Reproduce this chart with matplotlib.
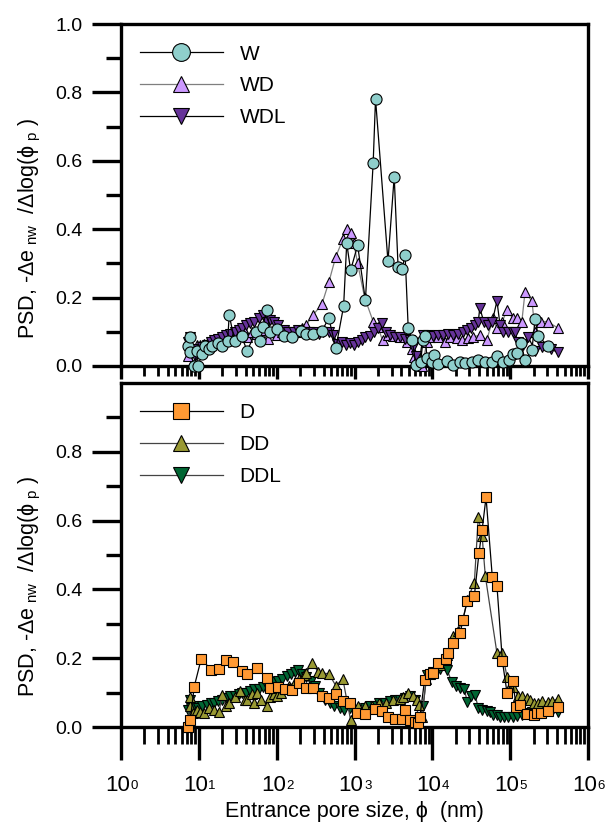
import matplotlib
matplotlib.use("Agg")
import matplotlib.pyplot as plt
import numpy as np
from matplotlib.ticker import FixedLocator, LogLocator, NullFormatter, FormatStrFormatter

plt.rcParams['font.family'] = ['Liberation Sans', 'DejaVu Sans']
plt.rcParams['mathtext.fontset'] = 'custom'
plt.rcParams['mathtext.rm'] = 'Liberation Sans'
plt.rcParams['mathtext.it'] = 'Liberation Sans:italic'

# pore entrance sizes are given as log10(phi / nm)
w_logd = [0.86, 0.88, 0.89, 0.94, 0.98, 0.99, 1.04, 1.08, 1.13, 1.17, 1.24, 1.30, 1.37, 1.39,
          1.46, 1.55, 1.62, 1.73, 1.78, 1.82, 1.87, 1.92, 2.01, 2.10, 2.20, 2.31, 2.38, 2.47,
          2.58, 2.67, 2.76, 2.86, 2.90, 2.95, 3.04, 3.14, 3.24, 3.27, 3.43, 3.51, 3.56, 3.61,
          3.65, 3.69, 3.74, 3.79, 3.85, 3.88, 3.91, 3.93, 4.00, 4.02, 4.07, 4.19, 4.27, 4.36,
          4.42, 4.51, 4.59, 4.68, 4.77, 4.83, 4.91, 4.99, 5.04, 5.09, 5.14, 5.19, 5.28, 5.32,
          5.36, 5.49]
w_psd = [0.058, 0.085, 0.041, 0.0, 0.044, 0.0, 0.035, 0.058, 0.05, 0.058, 0.067, 0.058, 0.073, 0.149,
         0.073, 0.087, 0.044, 0.099, 0.073, 0.114, 0.163, 0.099, 0.108, 0.087, 0.085, 0.102, 0.093, 0.093,
         0.102, 0.140, 0.052, 0.175, 0.359, 0.280, 0.353, 0.192, 0.595, 0.781, 0.306, 0.554, 0.289, 0.283,
         0.324, 0.111, 0.076, 0.003, 0.012, 0.076, 0.087, 0.023, 0.012, 0.032, 0.006, 0.015, 0.003, 0.012,
         0.009, 0.012, 0.017, 0.012, 0.012, 0.029, 0.012, 0.017, 0.035, 0.038, 0.067, 0.017, 0.047, 0.137,
         0.087, 0.058]

wd_logd = [0.86, 0.89, 0.93, 0.97, 1.02, 1.07, 1.12, 1.17, 1.22, 1.28, 1.33, 1.38, 1.43, 1.48,
           1.53, 1.59, 1.62, 1.68, 1.73, 1.78, 1.83, 1.89, 1.95, 2.01, 2.07, 2.14, 2.20, 2.27,
           2.33, 2.38, 2.47, 2.58, 2.67, 2.76, 2.85, 2.90, 2.95, 2.99, 3.04, 3.13, 3.24, 3.30,
           3.36, 3.43, 3.49, 3.58, 3.67, 3.74, 3.76, 3.81, 3.87, 3.93, 3.97, 4.07, 4.16, 4.23,
           4.32, 4.38, 4.46, 4.52, 4.61, 4.70, 4.78, 4.83, 4.90, 4.96, 5.03, 5.09, 5.15, 5.19,
           5.28, 5.32, 5.39, 5.48, 5.62]
wd_psd = [0.03, 0.055, 0.045, 0.06, 0.06, 0.065, 0.07, 0.075, 0.08, 0.085, 0.09, 0.095, 0.1, 0.1,
          0.095, 0.1, 0.085, 0.1, 0.095, 0.1, 0.105, 0.08, 0.1, 0.09, 0.1, 0.095, 0.1, 0.1,
          0.11, 0.12, 0.15, 0.18, 0.245, 0.32, 0.37, 0.40, 0.39, 0.36, 0.30, 0.20, 0.13, 0.115,
          0.075, 0.09, 0.087, 0.085, 0.07, 0.05, 0.027, 0.005, 0.0, 0.07, 0.085, 0.085, 0.07, 0.085,
          0.082, 0.076, 0.082, 0.085, 0.09, 0.076, 0.14, 0.11, 0.13, 0.165, 0.14, 0.14, 0.13, 0.215,
          0.19, 0.10, 0.13, 0.13, 0.11]

wdl_logd = [0.86, 0.89, 0.92, 0.95, 0.99, 1.04, 1.10, 1.15, 1.20, 1.25, 1.30, 1.35, 1.40, 1.46,
            1.51, 1.56, 1.61, 1.66, 1.71, 1.77, 1.82, 1.87, 1.92, 1.97, 2.02, 2.09, 2.15, 2.22,
            2.28, 2.35, 2.41, 2.47, 2.54, 2.60, 2.67, 2.73, 2.78, 2.84, 2.89, 2.94, 2.99, 3.04,
            3.09, 3.14, 3.20, 3.25, 3.30, 3.35, 3.40, 3.45, 3.52, 3.58, 3.65, 3.71, 3.75, 3.79,
            3.83, 3.88, 3.94, 4.01, 4.07, 4.14, 4.20, 4.27, 4.33, 4.39, 4.45, 4.50, 4.55, 4.59,
            4.61, 4.66, 4.72, 4.77, 4.83, 4.87, 4.91, 4.97, 5.03, 5.06, 5.10, 5.17, 5.23, 5.32,
            5.41, 5.52, 5.61]
wdl_psd = [0.07, 0.085, 0.05, 0.03, 0.045, 0.055, 0.06, 0.07, 0.075, 0.08, 0.085, 0.09, 0.095, 0.1,
           0.105, 0.11, 0.12, 0.125, 0.13, 0.14, 0.15, 0.13, 0.135, 0.13, 0.12, 0.105, 0.1, 0.1,
           0.105, 0.1, 0.1, 0.1, 0.095, 0.1, 0.1, 0.09, 0.065, 0.07, 0.06, 0.068, 0.062, 0.07,
           0.075, 0.085, 0.088, 0.1, 0.11, 0.125, 0.1, 0.09, 0.085, 0.085, 0.08, 0.075, 0.055, 0.03,
           0.005, 0.09, 0.09, 0.087, 0.09, 0.09, 0.095, 0.09, 0.095, 0.1, 0.105, 0.11, 0.12, 0.13,
           0.17, 0.13, 0.12, 0.13, 0.19, 0.12, 0.10, 0.098, 0.10, 0.098, 0.07, 0.06, 0.085, 0.045,
           0.055, 0.05, 0.04]

d_logd = [0.86, 0.89, 0.94, 1.03, 1.16, 1.26, 1.35, 1.44, 1.55, 1.62, 1.75, 1.87, 1.91, 2.02,
          2.11, 2.20, 2.29, 2.38, 2.47, 2.58, 2.67, 2.76, 2.85, 2.94, 3.03, 3.13, 3.26, 3.35,
          3.43, 3.52, 3.61, 3.65, 3.71, 3.78, 3.81, 3.84, 3.90, 3.97, 4.01, 4.07, 4.18, 4.20,
          4.27, 4.36, 4.39, 4.45, 4.54, 4.60, 4.64, 4.69, 4.77, 4.83, 4.90, 4.96, 5.03, 5.08,
          5.13, 5.21, 5.30, 5.35, 5.39, 5.48, 5.61]
d_psd = [0.0, 0.02, 0.117, 0.198, 0.166, 0.169, 0.195, 0.19, 0.163, 0.155, 0.172, 0.143, 0.114, 0.117,
         0.111, 0.108, 0.128, 0.114, 0.114, 0.09, 0.085, 0.096, 0.075, 0.07, 0.041, 0.038, 0.052, 0.047,
         0.029, 0.023, 0.023, 0.05, 0.02, 0.015, 0.012, 0.029, 0.137, 0.155, 0.157, 0.187, 0.198, 0.215,
         0.245, 0.274, 0.31, 0.367, 0.382, 0.507, 0.574, 0.668, 0.437, 0.411, 0.192, 0.099, 0.134, 0.058,
         0.064, 0.038, 0.035, 0.041, 0.041, 0.047, 0.058]

dd_logd = [0.86, 0.88, 0.89, 0.93, 0.97, 1.02, 1.07, 1.13, 1.20, 1.26, 1.30, 1.35, 1.39, 1.46,
           1.53, 1.59, 1.62, 1.68, 1.71, 1.75, 1.80, 1.87, 1.91, 1.96, 2.01, 2.06, 2.11, 2.16,
           2.23, 2.29, 2.35, 2.38, 2.46, 2.53, 2.58, 2.67, 2.76, 2.85, 2.95, 3.04, 3.13, 3.22,
           3.32, 3.41, 3.49, 3.58, 3.62, 3.69, 3.75, 3.80, 3.83, 3.87, 3.92, 4.00, 4.10, 4.19,
           4.27, 4.33, 4.39, 4.45, 4.54, 4.59, 4.64, 4.68, 4.83, 4.90, 4.96, 5.00, 5.04, 5.10,
           5.15, 5.21, 5.26, 5.30, 5.36, 5.41, 5.48, 5.54, 5.61]
dd_psd = [0.0, 0.06, 0.087, 0.04, 0.05, 0.045, 0.04, 0.055, 0.05, 0.045, 0.093, 0.06, 0.07, 0.087,
          0.105, 0.08, 0.08, 0.095, 0.07, 0.1, 0.08, 0.06, 0.087, 0.095, 0.09, 0.1, 0.11, 0.12,
          0.13, 0.14, 0.15, 0.157, 0.187, 0.16, 0.157, 0.155, 0.12, 0.14, 0.02, 0.06, 0.06, 0.06,
          0.07, 0.07, 0.08, 0.082, 0.087, 0.1, 0.09, 0.08, 0.065, 0.03, 0.14, 0.16, 0.18, 0.21,
          0.265, 0.28, 0.31, 0.37, 0.42, 0.61, 0.555, 0.44, 0.215, 0.215, 0.145, 0.12, 0.117, 0.09,
          0.09, 0.085, 0.08, 0.07, 0.07, 0.075, 0.072, 0.075, 0.082]

ddl_logd = [0.86, 0.88, 0.90, 0.94, 0.99, 1.04, 1.10, 1.15, 1.20, 1.25, 1.30, 1.35, 1.40, 1.46,
            1.51, 1.56, 1.61, 1.66, 1.71, 1.77, 1.82, 1.87, 1.92, 1.97, 2.02, 2.07, 2.13, 2.18,
            2.23, 2.28, 2.33, 2.38, 2.44, 2.49, 2.55, 2.62, 2.68, 2.74, 2.81, 2.87, 2.94, 3.00,
            3.07, 3.13, 3.20, 3.26, 3.32, 3.39, 3.45, 3.52, 3.58, 3.65, 3.71, 3.78, 3.83, 3.88,
            3.93, 4.01, 4.10, 4.19, 4.25, 4.30, 4.36, 4.41, 4.45, 4.50, 4.55, 4.59, 4.64, 4.70,
            4.74, 4.78, 4.83, 4.87, 4.92, 4.97, 5.03, 5.09, 5.15, 5.22, 5.28, 5.35, 5.41, 5.48,
            5.54, 5.61]
ddl_psd = [0.05, 0.08, 0.055, 0.06, 0.055, 0.06, 0.065, 0.07, 0.07, 0.075, 0.08, 0.085, 0.09, 0.09,
           0.095, 0.1, 0.1, 0.105, 0.11, 0.11, 0.115, 0.12, 0.125, 0.13, 0.135, 0.14, 0.148, 0.155,
           0.16, 0.165, 0.155, 0.145, 0.135, 0.12, 0.1, 0.08, 0.07, 0.06, 0.055, 0.05, 0.055, 0.05,
           0.05, 0.055, 0.06, 0.06, 0.07, 0.07, 0.075, 0.08, 0.08, 0.085, 0.09, 0.08, 0.02, 0.06,
           0.15, 0.16, 0.17, 0.167, 0.13, 0.12, 0.113, 0.11, 0.073, 0.09, 0.093, 0.055, 0.05, 0.047,
           0.045, 0.035, 0.035, 0.03, 0.03, 0.03, 0.03, 0.032, 0.035, 0.04, 0.045, 0.045, 0.048, 0.05,
           0.048, 0.045]

fig = plt.figure(figsize=(6.06, 8.23), dpi=100)
ax1 = fig.add_axes([0.1997, 0.5553, 0.7706, 0.4155])
ax2 = fig.add_axes([0.1997, 0.1166, 0.7706, 0.4180])

def series(ax, logd, psd, marker, color, lcolor, label, ms=7.5, z=3):
    return ax.plot(10 ** np.array(logd), psd, marker=marker, color=lcolor, lw=0.9,
                   mfc=color, mec='black', mew=0.8, ms=ms, label=label,
                   clip_on=False, zorder=z)[0]

h_wd = series(ax1, wd_logd, wd_psd, '^', '#CC99FF', '#7f7f7f', 'WD', z=3)
h_wdl = series(ax1, wdl_logd, wdl_psd, 'v', '#663399', 'black', 'WDL', z=4)
h_w = series(ax1, w_logd, w_psd, 'o', '#8FCFCC', 'black', 'W', ms=8, z=5)

h_ddl = series(ax2, ddl_logd, ddl_psd, 'v', '#006633', '#444444', 'DDL', z=3)
h_dd = series(ax2, dd_logd, dd_psd, '^', '#999933', '#444444', 'DD', z=4)
h_d = series(ax2, d_logd, d_psd, 's', '#FF9933', 'black', 'D', ms=7.5, z=5)

for ax in (ax1, ax2):
    ax.set_xscale('log')
    ax.set_xlim(1, 1e6)
    ax.set_ylim(0, 1.0)
    for s in ax.spines.values():
        s.set_linewidth(2.4)
    ax.xaxis.set_major_locator(LogLocator(base=10, numticks=10))
    ax.xaxis.set_minor_locator(LogLocator(base=10, subs=np.arange(2, 10), numticks=20))
    ax.xaxis.set_major_formatter(NullFormatter())
    ax.xaxis.set_minor_formatter(NullFormatter())
    ax.yaxis.set_major_formatter(FormatStrFormatter('%.1f'))
    ax.tick_params(axis='y', which='major', direction='out', length=21, width=2.4,
                   labelsize=14, pad=7)
    ax.tick_params(axis='y', which='minor', direction='out', length=11, width=2.4)
    ax.tick_params(top=False, right=False, which='both')

ax1.yaxis.set_major_locator(FixedLocator([0.0, 0.2, 0.4, 0.6, 0.8, 1.0]))
ax1.yaxis.set_minor_locator(FixedLocator([0.1, 0.3, 0.5, 0.7, 0.9]))
ax1.tick_params(axis='x', which='major', direction='out', length=9, width=2.4)
ax1.tick_params(axis='x', which='minor', direction='out', length=7, width=2.0)

ax2.yaxis.set_major_locator(FixedLocator([0.0, 0.2, 0.4, 0.6, 0.8]))
ax2.yaxis.set_minor_locator(FixedLocator([0.1, 0.3, 0.5, 0.7, 0.9]))
ax2.tick_params(axis='x', which='major', direction='out', length=24, width=2.4)
ax2.tick_params(axis='x', which='minor', direction='out', length=12, width=2.0)

# decade labels: "10" with a small exponent beside it
for k in range(7):
    ax2.annotate('10', xy=(10.0 ** k, 0), xycoords=('data', 'axes fraction'),
                 xytext=(6.5, -42), textcoords='offset points',
                 ha='right', va='center', fontsize=16)
    ax2.annotate(str(k), xy=(10.0 ** k, 0), xycoords=('data', 'axes fraction'),
                 xytext=(6.8, -42.5), textcoords='offset points',
                 ha='left', va='center', fontsize=9.5)

ax2.text(0.5, -0.245, 'Entrance pore size, ϕ  (nm)', transform=ax2.transAxes,
         ha='center', va='center', fontsize=15.5)

ylab = 'PSD, -Δe$_{\\mathregular{\\ nw}}$  /Δlog(ϕ$_{\\mathregular{\\ p}}$ )'
fig.text(30 / 606, 1 - 228 / 823, ylab, rotation=90, ha='center', va='center', fontsize=15.5)
fig.text(30 / 606, 1 - 586 / 823, ylab, rotation=90, ha='center', va='center', fontsize=15.5)

leg_kw = dict(loc='upper left', frameon=False, fontsize=15, handlelength=4.0,
              handletextpad=0.8, labelspacing=0.62, borderpad=0, borderaxespad=0,
              markerscale=1.6)
ax1.legend([h_w, h_wd, h_wdl], ['W', 'WD', 'WDL'], bbox_to_anchor=(0.04, 0.94), **leg_kw)
ax2.legend([h_d, h_dd, h_ddl], ['D', 'DD', 'DDL'], bbox_to_anchor=(0.04, 0.942), **leg_kw)

fig.savefig('out.png', dpi=100)
